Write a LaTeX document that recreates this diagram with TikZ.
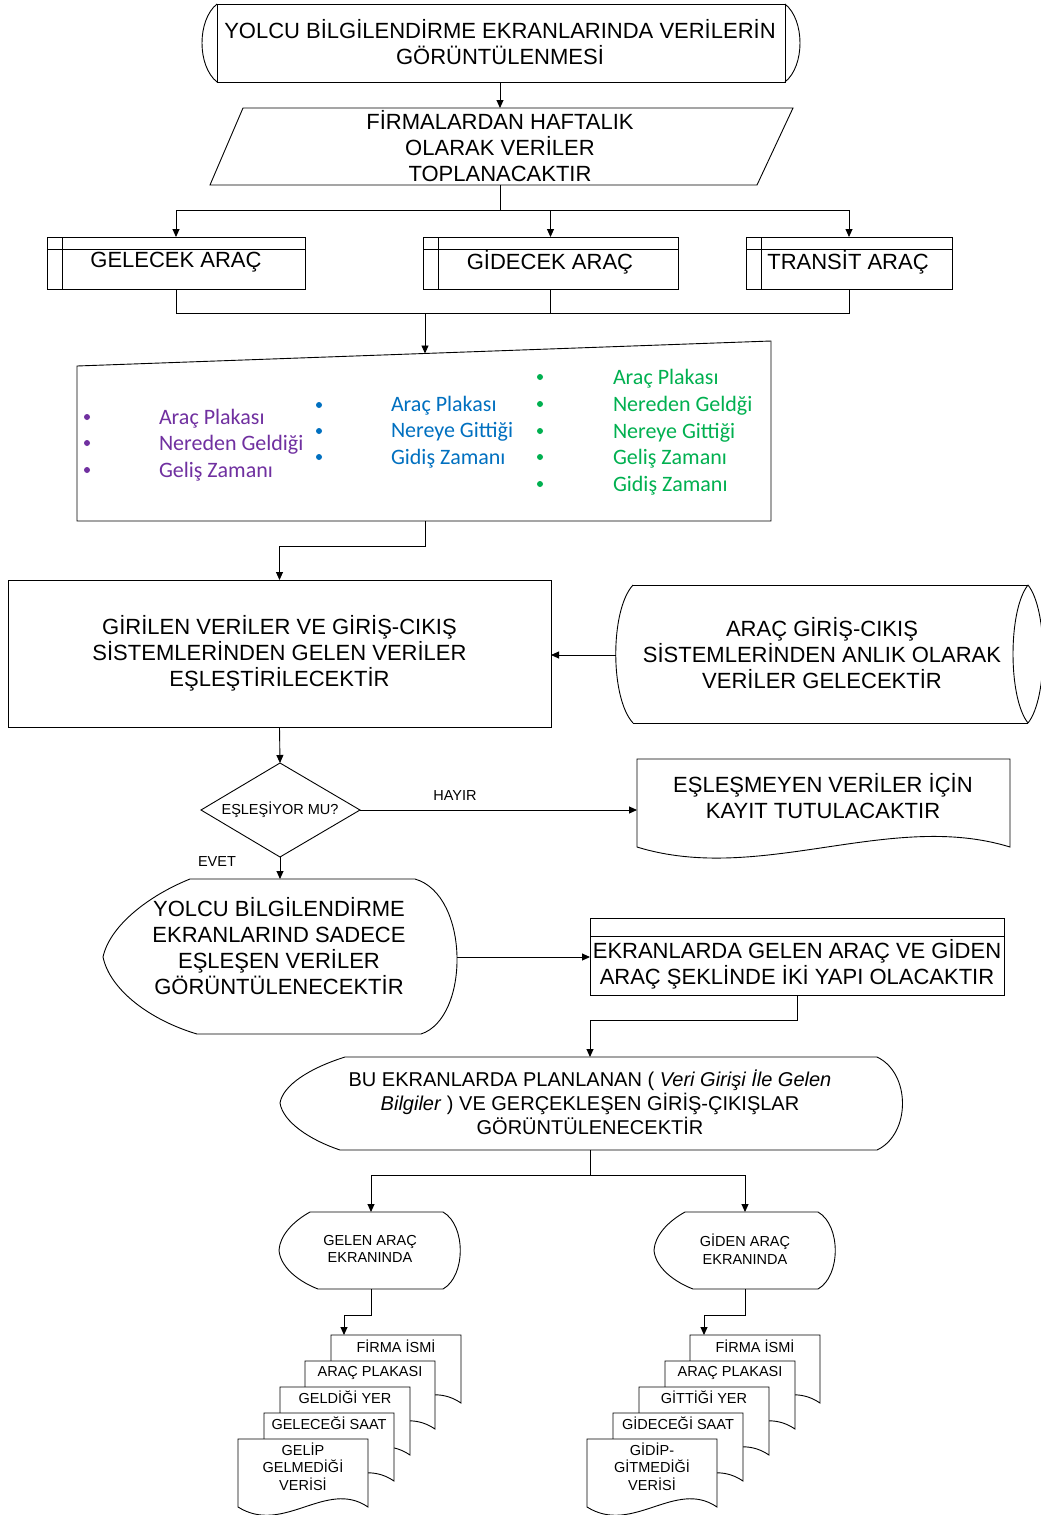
\documentclass[tikz,border=0pt]{standalone}
\usepackage{fontspec}
\setmainfont{Liberation Sans}
\newfontfamily\calibrifont{Carlito}
\usetikzlibrary{arrows.meta}
\definecolor{cpurple}{HTML}{7030A0}
\definecolor{cblue}{HTML}{0070C0}
\definecolor{cgreen}{HTML}{00B050}
\newcommand{\docshape}[4]{\filldraw[fill=white] (#1,#2) -- ({#1+#3},#2) -- ({#1+#3},{#2+#4}) .. controls ({#1+0.68*#3},{#2+0.58*#4}) and ({#1+0.35*#3},{#2+1.42*#4}) .. (#1,{#2+#4}) -- cycle;}
\newcommand{\smalldisp}[1]{\draw ({310+#1},1212) -- ({443+#1},1212) .. controls ({466+#1},1225) and ({466+#1},1276) .. ({443+#1},1289) -- ({318+#1},1289) .. controls ({295+#1},1280) and ({280+#1},1265) .. ({279+#1},1250) .. controls ({280+#1},1236) and ({292+#1},1222) .. ({310+#1},1212);}
\begin{document}
\begin{tikzpicture}[x=1pt,y=-1pt,
  line width=0.9pt,
  every node/.style={inner sep=0pt, outer sep=0pt},
  big/.style={font=\fontsize{22}{26}\selectfont, align=center},
  midtxt/.style={font=\fontsize{20}{24}\selectfont, align=center},
  small/.style={font=\fontsize{14.5}{17.5}\selectfont, align=center},
  arr/.style={-{Triangle[length=8pt,width=7pt]}},
  pan/.style={font=\calibrifont\fontsize{22}{26}\selectfont, anchor=base west},
  procbox/.style={draw, minimum height=52pt}
]
\fill[white] (0,0) rectangle (1041,1515);
\useasboundingbox (0,0) rectangle (1041,1515);

% ---------- title ----------
\draw (217,4) -- (785,4) -- (785,82) -- (217,82) -- cycle;
\draw (217,4) .. controls (197,20) and (197,66) .. (217,82);
\draw (785,4) .. controls (805,20) and (805,66) .. (785,82);
\node[big] (title) at (500,42) {YOLCU BİLGİLENDİRME EKRANLARINDA VERİLERİN\\GÖRÜNTÜLENMESİ};
\coordinate (title-s) at (500,82);

% ---------- input ----------
\draw (243,108) -- (793,108) -- (757,185) -- (210,185) -- cycle;
\node[big] (input) at (500,146) {FİRMALARDAN HAFTALIK\\OLARAK VERİLER\\TOPLANACAKTIR};
\coordinate (input-n) at (500,108);
\coordinate (input-s) at (500,185);
\draw[arr] (title-s) -- (input-n);

% ---------- three boxes ----------
\node[procbox, minimum width=258pt] (gelecek) at (176,263) {};
\node[procbox, minimum width=255pt] (gidecek) at (550.5,263) {};
\node[procbox, minimum width=206pt] (transit) at (849,263) {};
\foreach \b in {gelecek,gidecek,transit}{
  \draw ([yshift=-12pt]\b.north west) -- ([yshift=-12pt]\b.north east);
  \draw ([xshift=15pt]\b.north west) -- ([xshift=15pt]\b.south west);
}
\node[big] (gelecekT) at (176,262) {GELECEK ARAÇ};
\node[big] (gidecekT) at (550,262) {GİDECEK ARAÇ};
\node[big] (transitT) at (848,262) {TRANSİT ARAÇ};

\coordinate (b1) at (500,210);
\draw (input-s) -- (b1);
\draw[arr] (b1) -| (gelecek.north);
\draw[arr] (b1) -| (gidecek.north);
\draw[arr] (b1) -| (transit.north);

\coordinate (m1) at (425,313);
\draw (gelecek.south) |- (m1);
\draw (gidecek.south) |- (m1);
\draw (transit.south) |- (m1);

% ---------- panel ----------
\draw (77,366) -- (771,341) -- (771,521) -- (77,521) -- cycle;
\coordinate (panel-n) at (425,353.5);
\coordinate (panel-s) at (425,521);
\draw[arr] (m1) -- (panel-n);

\foreach \yy in {417,443,470}{\fill[cpurple] (87,\yy) circle (3);}
\node[pan, text=cpurple] (p1) at (159,424) {Araç Plakası};
\node[pan, text=cpurple] (p2) at (159,450) {Nereden Geldiği};
\node[pan, text=cpurple] (p3) at (159,477) {Geliş Zamanı};

\foreach \yy in {405,431,457}{\fill[cblue] (319,\yy) circle (3);}
\node[pan, text=cblue] (q1) at (391,411) {Araç Plakası};
\node[pan, text=cblue] (q2) at (391,437) {Nereye Gittiği};
\node[pan, text=cblue] (q3) at (391,464) {Gidiş Zamanı};

\foreach \yy in {377,404,431,457,484}{\fill[cgreen] (540,\yy) circle (3);}
\node[pan, text=cgreen] (r1) at (613,384) {Araç Plakası};
\node[pan, text=cgreen] (r2) at (613,411) {Nereden Geldği};
\node[pan, text=cgreen] (r3) at (613,438) {Nereye Gittiği};
\node[pan, text=cgreen] (r4) at (613,464) {Geliş Zamanı};
\node[pan, text=cgreen] (r5) at (613,491) {Gidiş Zamanı};

% ---------- matching box ----------
\node[draw, big, minimum width=543pt, minimum height=147pt] (girilen) at (279.5,653.5) {GİRİLEN VERİLER VE GİRİŞ-CIKIŞ\\SİSTEMLERİNDEN GELEN VERİLER\\EŞLEŞTİRİLECEKTİR};
\coordinate (j1) at (425,546);
\draw[arr] (panel-s) -- (j1) -| (girilen.north);

% ---------- stored data ----------
\draw (633,585) -- (1028,585) (633,723) -- (1028,723);
\draw (633,585) .. controls (610,610) and (610,698) .. (633,723);
\draw (1028,585) .. controls (1008,610) and (1008,698) .. (1028,723);
\draw (1028,585) .. controls (1048,610) and (1048,698) .. (1028,723);
\node[big] (arac) at (822,653) {ARAÇ GİRİŞ-CIKIŞ\\SİSTEMLERİNDEN ANLIK OLARAK\\VERİLER GELECEKTİR};
\coordinate (arac-w) at (616,655);
\draw[arr] (arac-w) -- (girilen.east |- arac-w);

% ---------- decision ----------
\draw (280,763) -- (360,810) -- (280,857) -- (201,810) -- cycle;
\node[small] (karar) at (280,810) {EŞLEŞİYOR MU?};
\coordinate (karar-n) at (280,763);
\coordinate (karar-e) at (360,810);
\coordinate (karar-s) at (280,857);
\draw[arr] (girilen.south) -- (karar-n);

% ---------- document: no match ----------
\draw (637,759) -- (1010,759) -- (1010,847) .. controls (890,810) and (760,885) .. (637,847) -- cycle;
\node[big] (kayit) at (823,796) {EŞLEŞMEYEN VERİLER İÇİN\\KAYIT TUTULACAKTIR};
\coordinate (kayit-w) at (637,810);
\draw[arr] (karar-e) -- (kayit-w);
\node[small] (hayir) at (455,796) {HAYIR};
\node[small] (evet) at (217,862) {EVET};

% ---------- display: yolcu ----------
\draw (190,879) -- (415,879) .. controls (470,895) and (470,1018) .. (421,1034) -- (197,1034) .. controls (150,1020) and (110,990) .. (103,957) .. controls (110,925) and (150,895) .. (190,879);
\node[big] (yolcu) at (279,946) {YOLCU BİLGİLENDİRME\\EKRANLARIND SADECE\\EŞLEŞEN VERİLER\\GÖRÜNTÜLENECEKTİR};
\coordinate (yolcu-n) at (280,879);
\coordinate (yolcu-e) at (457,957);
\draw[arr] (karar-s) -- (yolcu-n);

% ---------- ekran box ----------
\node[draw, minimum width=414pt, minimum height=77pt] (ekran) at (797,956.5) {};
\draw ([yshift=-18pt]ekran.north west) -- ([yshift=-18pt]ekran.north east);
\node[big] (ekranT) at (797,964.5) {EKRANLARDA GELEN ARAÇ VE GİDEN\\ARAÇ ŞEKLİNDE İKİ YAPI OLACAKTIR};
\draw[arr] (yolcu-e) -- (ekran.west |- yolcu-e);

% ---------- display: bu ----------
\draw (345,1057) -- (877,1057) .. controls (911,1073) and (911,1134) .. (877,1150) -- (340,1150) .. controls (310,1140) and (283,1122) .. (280,1103) .. controls (283,1085) and (310,1068) .. (345,1057);
\node[midtxt] (bu) at (590,1102) {BU EKRANLARDA PLANLANAN ( \textit{Veri Girişi İle Gelen}\\\textit{Bilgiler} ) VE GERÇEKLEŞEN GİRİŞ-ÇIKIŞLAR\\GÖRÜNTÜLENECEKTİR};
\coordinate (bu-n) at (590,1057);
\coordinate (bu-s) at (590,1150);
\coordinate (j2) at (797,1020);
\draw[arr] (ekran.south) -- (j2) -| (bu-n);

% ---------- small displays ----------
\smalldisp{0}
\smalldisp{375}
\node[small] (gelen) at (370,1249) {GELEN ARAÇ\\EKRANINDA};
\node[small] (giden) at (745,1249) {GİDEN ARAÇ\\EKRANINDA};
\coordinate (gelen-n) at (371,1212);
\coordinate (giden-n) at (745,1212);
\coordinate (gelen-s) at (371,1289);
\coordinate (giden-s) at (745,1289);
\coordinate (j3) at (590,1175);
\draw (bu-s) -- (j3);
\draw[arr] (j3) -| (gelen-n);
\draw[arr] (j3) -| (giden-n);

% ---------- document stacks ----------
\docshape{331}{1335}{130}{68}
\docshape{305}{1361}{130}{68}
\docshape{280}{1387}{130}{68}
\docshape{264}{1413}{130}{68}
\docshape{238}{1439}{130}{68}
\node[small] (l1) at (396,1346.5) {FİRMA İSMİ};
\node[small] (l2) at (370,1372.5) {ARAÇ PLAKASI};
\node[small] (l3) at (345,1397.5) {GELDİĞİ YER};
\node[small] (l4) at (329,1423.5) {GELECEĞİ SAAT};
\node[small] (l5) at (303,1466.5) {GELİP\\GELMEDİĞİ\\VERİSİ};

\docshape{690}{1335}{130}{68}
\docshape{665}{1361}{130}{68}
\docshape{639}{1387}{130}{68}
\docshape{613}{1413}{130}{68}
\docshape{587}{1439}{130}{68}
\node[small] (g1) at (755,1346.5) {FİRMA İSMİ};
\node[small] (g2) at (730,1372.5) {ARAÇ PLAKASI};
\node[small] (g3) at (704,1397.5) {GİTTİĞİ YER};
\node[small] (g4) at (678,1423.5) {GİDECEĞİ SAAT};
\node[small] (g5) at (652,1466.5) {GİDİP-\\GİTMEDİĞİ\\VERİSİ};

\coordinate (l1-n) at (344,1335);
\coordinate (g1-n) at (704,1335);
\coordinate (j4) at (371,1315);
\coordinate (j5) at (745,1315);
\draw[arr] (gelen-s) -- (j4) -| (l1-n);
\draw[arr] (giden-s) -- (j5) -| (g1-n);
\end{tikzpicture}
\end{document}
